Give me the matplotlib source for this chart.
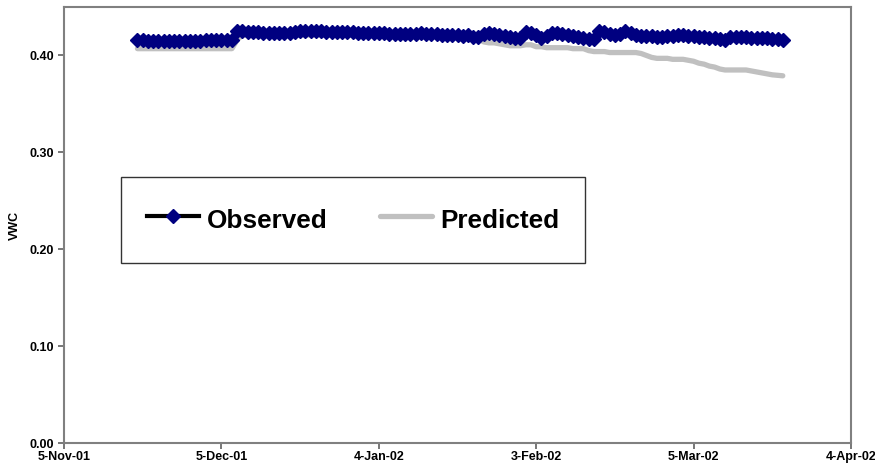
import pandas as pd
import matplotlib
matplotlib.use("Agg")
import matplotlib.pyplot as plt

# daily readings, 19-Nov-01 .. 22-Mar-02
start_date = "2001-11-19"
end_date = "2002-03-22"

observed = [
    0.416, 0.416, 0.415, 0.415, 0.415, 0.415, 0.415, 0.415, 0.415, 0.415,
    0.415, 0.415, 0.415, 0.416, 0.416, 0.416, 0.416, 0.416, 0.416,
    0.425, 0.425, 0.424, 0.424, 0.424, 0.423, 0.423, 0.423, 0.423, 0.423, 0.423, 0.424,
    0.425, 0.425, 0.425, 0.425, 0.425, 0.424, 0.424, 0.424,
    0.424, 0.424, 0.424, 0.423, 0.423, 0.423, 0.423, 0.423,
    0.423, 0.422, 0.422, 0.422, 0.422, 0.422, 0.422, 0.423, 0.422, 0.422, 0.422, 0.421,
    0.421, 0.421, 0.421, 0.420, 0.421, 0.419, 0.419,
    0.422, 0.4235, 0.422,
    0.421, 0.420, 0.419, 0.418, 0.418,
    0.424, 0.423,
    0.421, 0.418, 0.420,
    0.4235, 0.423, 0.422,
    0.421, 0.420, 0.419, 0.418, 0.417,
    0.417, 0.425, 0.424,
    0.422, 0.421, 0.422,
    0.425, 0.423, 0.421,
    0.420, 0.420, 0.420, 0.419, 0.419, 0.420,
    0.420, 0.421, 0.421, 0.420, 0.420, 0.419,
    0.419, 0.418, 0.418, 0.417, 0.416, 0.419,
    0.419, 0.419, 0.419, 0.418, 0.418, 0.418,
    0.418, 0.417, 0.417, 0.416,
]

predicted = [
    0.407, 0.407, 0.407, 0.407, 0.407, 0.407, 0.407, 0.407, 0.407, 0.407,
    0.407, 0.407, 0.407, 0.407, 0.407, 0.407, 0.407, 0.407, 0.407,
    0.416, 0.421, 0.421, 0.421, 0.421, 0.421, 0.421, 0.421, 0.421, 0.421,
    0.421, 0.421, 0.421, 0.421, 0.421, 0.421, 0.421, 0.421, 0.421, 0.421,
    0.421, 0.421, 0.421, 0.421, 0.421, 0.421, 0.421, 0.421, 0.421, 0.421,
    0.421, 0.421, 0.421, 0.420, 0.420, 0.420, 0.420, 0.420, 0.420, 0.419,
    0.419, 0.419, 0.418, 0.418, 0.418, 0.418, 0.417,
    0.414, 0.413, 0.413, 0.412, 0.411, 0.410, 0.410, 0.410, 0.411, 0.411,
    0.409, 0.409, 0.408, 0.408, 0.408, 0.408, 0.408, 0.407, 0.407, 0.407,
    0.405, 0.404, 0.404, 0.404, 0.403, 0.403, 0.403, 0.403, 0.403, 0.403,
    0.402, 0.400, 0.398, 0.397, 0.397, 0.397, 0.396, 0.396, 0.396, 0.395,
    0.394, 0.392, 0.391, 0.389, 0.388, 0.386, 0.385, 0.385, 0.385, 0.385,
    0.385, 0.384, 0.383, 0.382, 0.381, 0.380, 0.3795, 0.379,
]

x_ticks = ["2001-11-05", "2001-12-05", "2002-01-04", "2002-02-03", "2002-03-05", "2002-04-04"]
x_tick_labels = ["5-Nov-01", "5-Dec-01", "4-Jan-02", "3-Feb-02", "5-Mar-02", "4-Apr-02"]
y_ticks = [0.0, 0.1, 0.2, 0.3, 0.4]

dates = pd.date_range(start_date, end_date, freq="D")

plt.rcParams["font.family"] = ["Liberation Sans", "DejaVu Sans"]
plt.rcParams["font.weight"] = "bold"

fig = plt.figure(figsize=(8.75, 4.71), dpi=100)
ax = fig.add_axes([64 / 875, 28 / 471, 787 / 875, 436 / 471])

ax.plot(dates, predicted, color="#c0c0c0", linewidth=3.8, solid_capstyle="round",
        label="Predicted", zorder=2)
ax.plot(dates, observed, color="black", linewidth=3, marker="D", markersize=7.4,
        markerfacecolor="#000080", markeredgecolor="#000080", label="Observed", zorder=3)

ax.set_xlim(pd.Timestamp(x_ticks[0]), pd.Timestamp(x_ticks[-1]))
ax.set_ylim(0, 0.45)
ax.set_xticks([pd.Timestamp(d) for d in x_ticks])
ax.set_xticklabels(x_tick_labels, fontsize=9, fontweight="bold")
ax.set_yticks(y_ticks)
ax.set_yticklabels(["%.2f" % v for v in y_ticks], fontsize=9, fontweight="bold")
ax.set_ylabel("VWC", fontsize=9, fontweight="bold", labelpad=6)

for s in ax.spines.values():
    s.set_color("#808080")
    s.set_linewidth(1.5)
ax.tick_params(axis="both", direction="out", length=4, width=1.2, color="#606060")
ax.tick_params(axis="x", pad=2)
ax.tick_params(axis="y", pad=3)

handles, labels = ax.get_legend_handles_labels()
leg = ax.legend(handles[::-1], labels[::-1], ncol=2, fontsize=18.8,
                loc="upper left", bbox_to_anchor=(121 / 875, 1 - 177 / 471),
                bbox_transform=fig.transFigure,
                frameon=True, fancybox=False, edgecolor="black",
                handlelength=2.0, handleheight=1.6, handletextpad=0.3,
                columnspacing=2.0, borderpad=1.0, borderaxespad=0)
leg.get_frame().set_linewidth(1.0)
for t in leg.get_texts():
    t.set_fontweight("bold")

fig.savefig("out.png", dpi=100)
